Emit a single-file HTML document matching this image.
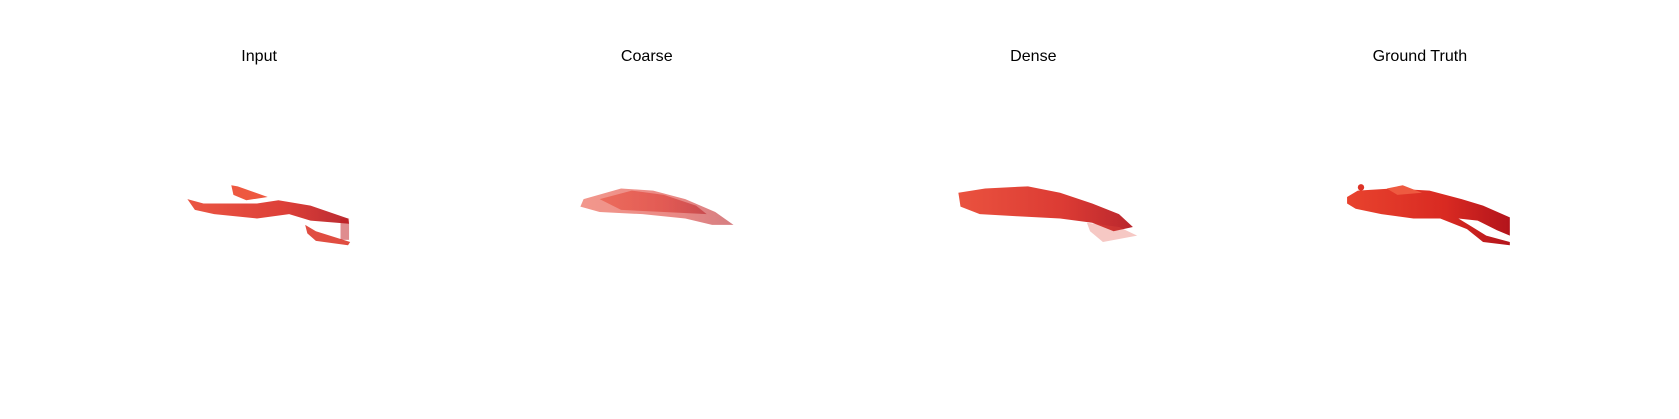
<!DOCTYPE html>
<html><head><meta charset="utf-8"><style>
html,body{margin:0;padding:0;background:#fff;}
svg{display:block;}
text{font-family:"Liberation Sans","DejaVu Sans",sans-serif;font-size:15px;fill:#000;}
</style></head><body>
<svg width="1679" height="419" viewBox="0 0 1679 419">
<defs>
<linearGradient id="g1" x1="0" x2="1" y1="0" y2="0">
<stop offset="0" stop-color="#e8432e"/><stop offset="0.6" stop-color="#d92a22"/><stop offset="1" stop-color="#b3141b"/>
</linearGradient>
</defs>
<g transform="scale(1.0708)">
<g>
<text x="242" y="57" text-anchor="middle">Input</text>
<polygon fill="url(#g1)" opacity="0.9" points="175,186 190,190 240,190 260,187 290,192 325,204 326,209 290,206 270,200 240,204 200,200 182,196"/>
<polygon fill="#ee5840" points="216,173 222,174 250,184 230,187 218,182"/>
<polygon fill="#dd3a2c" opacity="0.9" points="285,210 295,216 327,226 325,229 295,225 287,218"/>
<rect x="318" y="204" width="8" height="20" fill="#c01a1e" opacity="0.5"/>
</g>
<g>
<text x="604" y="57" text-anchor="middle">Coarse</text>
<polygon fill="url(#g1)" opacity="0.55" points="545,186 580,176 610,178 640,186 668,198 685,210 665,210 640,204 600,200 560,198 542,193"/>
<polygon fill="url(#g1)" opacity="0.5" points="560,186 590,178 620,182 650,192 660,200 620,198 580,196"/>
</g>
<g>
<text x="965" y="57" text-anchor="middle">Dense</text>
<polygon fill="url(#g1)" opacity="0.92" points="895,180 920,176 960,174 990,180 1020,190 1045,200 1058,212 1040,216 1020,208 990,204 950,202 915,200 897,193"/>
<polygon fill="#e04a3a" opacity="0.3" points="1015,208 1045,212 1062,220 1030,226 1018,216"/>
</g>
<g>
<text x="1326" y="57" text-anchor="middle">Ground Truth</text>
<polygon fill="url(#g1)" points="1258,184 1268,178 1300,176 1335,178 1365,186 1385,192 1410,203 1410,220 1398,215 1380,206 1362,204 1375,212 1388,220 1410,226 1410,229 1385,226 1370,214 1345,204 1320,204 1290,200 1266,195 1258,190"/>
<polygon fill="#ee5a40" points="1295,176 1310,173 1328,180 1305,182"/>
<circle cx="1271" cy="175" r="3" fill="#dd3326"/>
</g>
</g>
</svg>
</body></html>
